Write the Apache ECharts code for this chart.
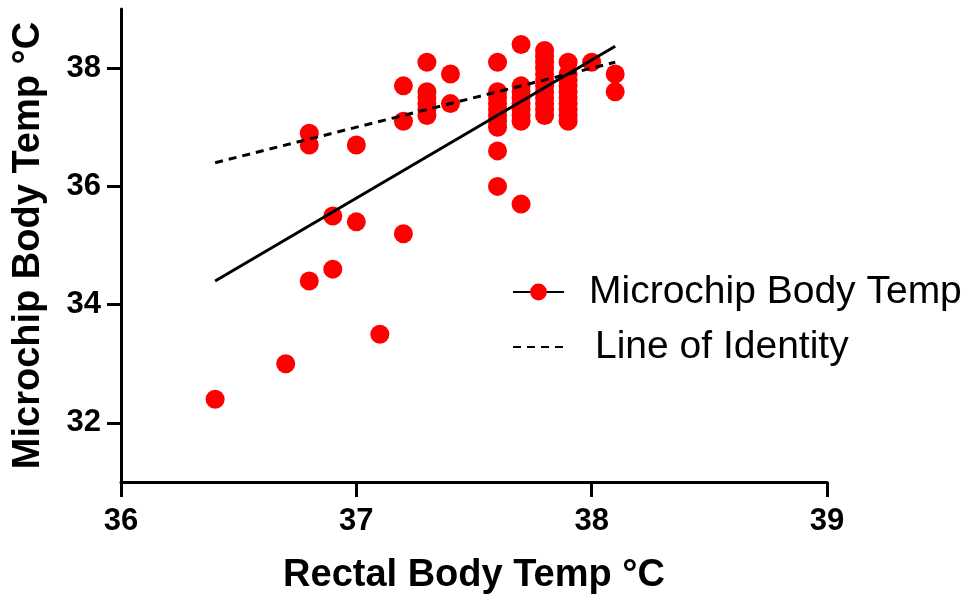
<!DOCTYPE html>
<html>
<head>
<meta charset="utf-8">
<script src="https://cdn.jsdelivr.net/npm/echarts@6/dist/echarts.min.js"></script>
<style>
html,body{margin:0;padding:0;background:#fff;}
#chart{width:974px;height:605px;}
</style>
</head>
<body>
<div id="chart"></div>
<script>
// Rectal (x) and microchip (y) body temperatures, one entry per reading
const rectalTemp = [
  36.4, 36.7, 36.8, 36.8, 36.8, 36.9, 36.9, 37.0, 37.0, 37.1,
  37.2, 37.2, 37.2,
  37.3, 37.3, 37.3, 37.3, 37.3, 37.3,
  37.4, 37.4,
  37.6, 37.6, 37.6, 37.6, 37.6, 37.6, 37.6, 37.6, 37.6, 37.6,
  37.7, 37.7, 37.7, 37.7, 37.7, 37.7, 37.7, 37.7, 37.7,
  37.8, 37.8, 37.8, 37.8, 37.8, 37.8, 37.8, 37.8, 37.8, 37.8, 37.8, 37.8,
  37.9, 37.9, 37.9, 37.9, 37.9, 37.9, 37.9, 37.9, 37.9, 37.9,
  38.0, 38.1, 38.1
];
const microchipTemp = [
  32.4, 33.0, 34.4, 36.7, 36.9, 34.6, 35.5, 35.4, 36.7, 33.5,
  35.2, 37.1, 37.7,
  38.1, 37.6, 37.5, 37.4, 37.3, 37.2,
  37.4, 37.9,
  36.0, 36.6, 37.0, 37.1, 37.2, 37.3, 37.4, 37.5, 37.6, 38.1,
  35.7, 37.1, 37.2, 37.3, 37.4, 37.5, 37.6, 37.7, 38.4,
  37.2, 37.3, 37.4, 37.5, 37.6, 37.7, 37.8, 37.9, 38.0, 38.1, 38.2, 38.3,
  37.1, 37.2, 37.3, 37.4, 37.5, 37.6, 37.7, 37.8, 37.9, 38.1,
  38.1, 37.6, 37.9
];
// Fitted line end points
const fitX = [36.4, 38.1];
const fitY = [34.4, 38.37];
// Line of identity end points
const identityX = [36.4, 38.1];
const identityY = [36.4, 38.1];
// Tick labels
const xTicks = [36, 37, 38, 39];
const yTicks = [32, 34, 36, 38];

const seriesName = 'Microchip Body Temp';
const identityName = 'Line of Identity';

const scatterData = rectalTemp.map((x, i) => [x, microchipTemp[i]]);
const fitData = fitX.map((x, i) => [x, fitY[i]]);
const identityData = identityX.map((x, i) => [x, identityY[i]]);

const FONT = 'Liberation Sans, Arial, Helvetica, sans-serif';

const chart = echarts.init(document.getElementById('chart'), null, {renderer: 'canvas'});
chart.setOption({
  animation: false,
  backgroundColor: '#ffffff',
  grid: {left: 121, right: 147, top: 9, bottom: 123, containLabel: false},
  xAxis: {
    type: 'value',
    min: xTicks[0], max: xTicks[xTicks.length - 1], interval: 1,
    name: 'Rectal Body Temp \u00B0C',
    nameLocation: 'middle', nameGap: 75,
    nameTextStyle: {fontFamily: FONT, fontWeight: 'bold', fontSize: 38, color: '#000'},
    axisLine: {show: true, lineStyle: {color: '#000', width: 3}},
    axisTick: {show: true, inside: false, length: 15, lineStyle: {color: '#000', width: 3}},
    axisLabel: {fontFamily: FONT, fontWeight: 'bold', fontSize: 31, color: '#000', margin: 24},
    splitLine: {show: false}
  },
  yAxis: {
    type: 'value',
    min: 31, max: 39,
    name: 'Microchip Body Temp \u00B0C',
    nameLocation: 'middle', nameGap: 73, nameRotate: 90,
    nameTextStyle: {fontFamily: FONT, fontWeight: 'bold', fontSize: 38, color: '#000'},
    axisLine: {show: true, lineStyle: {color: '#000', width: 3}},
    axisTick: {show: true, inside: false, length: 14, customValues: yTicks, lineStyle: {color: '#000', width: 3}},
    axisLabel: {fontFamily: FONT, fontWeight: 'bold', fontSize: 31, color: '#000', margin: 20, customValues: yTicks},
    splitLine: {show: false}
  },
  legend: {
    orient: 'vertical',
    left: 512, top: 271, padding: 0,
    itemWidth: 51, itemHeight: 21, itemGap: 13,
    data: [seriesName, identityName],
    formatter: function (name) {
      return name === identityName ? '{b|' + name + '}' : '{a|' + name + '}';
    },
    textStyle: {
      fontFamily: FONT, fontSize: 39, color: '#000', lineHeight: 42,
      rich: {
        a: {fontFamily: FONT, fontSize: 39, color: '#000', lineHeight: 42, padding: [0, 0, 0, 20]},
        b: {fontFamily: FONT, fontSize: 39, color: '#000', lineHeight: 42, padding: [0, 0, 0, 26]}
      }
    }
  },
  series: [
    {
      name: seriesName,
      type: 'line',
      data: fitData,
      z: 4,
      symbol: 'circle',
      showSymbol: false,
      itemStyle: {color: '#ff0000'},
      lineStyle: {color: '#000', width: 3},
      silent: true
    },
    {
      name: seriesName,
      type: 'scatter',
      data: scatterData,
      z: 2,
      symbol: 'circle',
      symbolSize: 19,
      itemStyle: {color: '#ff0000', opacity: 1}
    },
    {
      name: identityName,
      type: 'line',
      data: identityData,
      z: 4,
      symbol: 'none',
      showSymbol: false,
      itemStyle: {color: 'rgba(0,0,0,0)'},
      lineStyle: {color: '#000', width: 3, type: [8, 6]},
      silent: true
    }
  ]
});
</script>
</body>
</html>
